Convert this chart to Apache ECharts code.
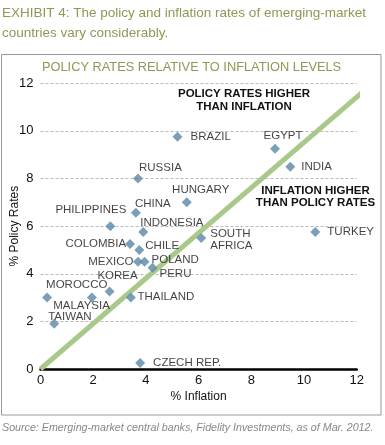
<!DOCTYPE html>
<html>
<head>
<meta charset="utf-8">
<script src="https://cdn.jsdelivr.net/npm/echarts@6/dist/echarts.min.js"></script>
<style>
html,body{margin:0;padding:0;background:#fff;}
#c{width:385px;height:445px;}
</style>
</head>
<body>
<div id="c"></div>
<script>
// ---- data ----
var countries = ['BRAZIL','EGYPT','INDIA','RUSSIA','HUNGARY','CHINA','PHILIPPINES','INDONESIA','SOUTH\nAFRICA','TURKEY','COLOMBIA','CHILE','MEXICO','POLAND','PERU','KOREA','MOROCCO','MALAYSIA','THAILAND','TAIWAN','CZECH REP.'];
var inflation = [5.2, 8.9, 9.48, 3.7, 5.55, 3.62, 2.65, 3.9, 6.1, 10.43, 3.4, 3.75, 3.7, 3.95, 4.25, 2.62, 0.25, 1.95, 3.43, 0.52, 3.78];
var policyRate = [9.75, 9.25, 8.5, 8.0, 7.0, 6.56, 6.0, 5.75, 5.5, 5.75, 5.25, 5.0, 4.5, 4.5, 4.25, 3.25, 3.0, 3.0, 3.0, 1.9, 0.25];
var refLineX = [0, 12.45];
var refLineY = [0, 11.85];
var axisTicks = [0, 2, 4, 6, 8, 10, 12];

// ---- label placement (style) : [dx, dy, align] from symbol centre ----
var labelPlace = {
  'BRAZIL':[13,0,'left'], 'EGYPT':[8,-13,'center'], 'INDIA':[11,0,'left'],
  'RUSSIA':[1,-11,'left'], 'HUNGARY':[14,-13,'center'], 'CHINA':[-1,-9,'left'],
  'PHILIPPINES':[16,-16,'right'], 'INDONESIA':[-3,-9,'left'], 'SOUTH\nAFRICA':[9,1.5,'left'],
  'TURKEY':[12,0,'left'], 'COLOMBIA':[-4,-0.5,'right'], 'CHILE':[6,-4,'left'],
  'MEXICO':[-4.5,0,'right'], 'POLAND':[7,-2.5,'left'], 'PERU':[7,6,'left'],
  'KOREA':[8,-15.5,'center'], 'MOROCCO':[-1,-12.7,'left'], 'MALAYSIA':[18,8.3,'right'],
  'THAILAND':[6.5,-0.5,'left'], 'TAIWAN':[-6,-6.6,'left'], 'CZECH REP.':[13,0,'left']
};

var FONT = '"Liberation Sans", Arial, sans-serif';
var olive = '#8b9a55';

var pts = countries.map(function(n,i){
  var p = labelPlace[n];
  return {
    value:[inflation[i], policyRate[i]],
    label:{show:true, formatter:n, position:'inside', offset:[p[0],p[1]], align:p[2], verticalAlign:'middle',
      color:'#111', fontSize:11.5, fontFamily:FONT, lineHeight:12}
  };
});

var chart = echarts.init(document.getElementById('c'), null, {renderer:'canvas'});
chart.setOption({
  animation:false,
  backgroundColor:'#fff',
  grid:{left:40.5, right:28.3, top:83.3, bottom:76, containLabel:false, outerBoundsMode:'none'},
  xAxis:{type:'value', min:0, max:12, interval:2,
    name:'% Inflation', nameLocation:'middle', nameGap:21.5, nameMoveOverlap:false,
    nameTextStyle:{color:'#111', fontSize:12, fontFamily:FONT},
    axisLine:{show:true, lineStyle:{color:'#000', width:2.5}},
    axisTick:{show:false}, splitLine:{show:false},
    axisLabel:{color:'#111', fontSize:13, fontFamily:FONT, margin:5}},
  yAxis:{type:'value', min:0, max:12, interval:2,
    name:'% Policy Rates', nameLocation:'middle', nameGap:20, nameRotate:90, nameMoveOverlap:false,
    nameTextStyle:{color:'#111', fontSize:12, fontFamily:FONT},
    axisLine:{show:false}, axisTick:{show:false},
    splitLine:{show:true, lineStyle:{color:'#bbb', type:[3,2], width:1}},
    axisLabel:{color:'#111', fontSize:13, fontFamily:FONT, margin:7}},
  series:[
    {type:'line', data:refLineX.map(function(x,i){return [x, refLineY[i]];}), clip:false,
     symbol:'none', lineStyle:{color:'#a9c98b', width:5}, z:1, silent:true},
    {type:'scatter', data:pts, symbol:'diamond', symbolSize:[10,10],
     itemStyle:{color:'#5b87a7'}, z:3}
  ],
  graphic:[
    {type:'rect', shape:{x:1.5, y:54.5, width:379.5, height:360.5}, style:{fill:'none', stroke:'#999', lineWidth:1}, z:-1},
    {type:'text', left:2, top:3, style:{text:'EXHIBIT 4: The policy and inflation rates of emerging-market\ncountries vary considerably.', fill:olive, font:'13.5px '+FONT, lineHeight:20}},
    {type:'text', left:42, top:61, style:{text:'POLICY RATES RELATIVE TO INFLATION LEVELS', fill:olive, font:'12.8px '+FONT}},
    {type:'text', x:244, y:100.5, style:{text:'POLICY RATES HIGHER\nTHAN INFLATION', fill:'#111', font:'bold 11.5px '+FONT, align:'center', verticalAlign:'middle', lineHeight:12.5}},
    {type:'text', x:315.5, y:197, style:{text:'INFLATION HIGHER\nTHAN POLICY RATES', fill:'#111', font:'bold 11.5px '+FONT, align:'center', verticalAlign:'middle', lineHeight:12.5}},
    {type:'text', left:2, top:423, style:{text:'Source: Emerging-market central banks, Fidelity Investments, as of Mar. 2012.', fill:'#888', font:'italic 10.7px '+FONT}}
  ]
});
</script>
</body>
</html>
